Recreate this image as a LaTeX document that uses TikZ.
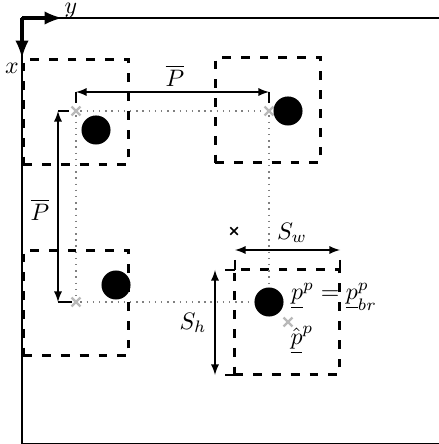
\documentclass[tikz,border=0pt]{standalone}
\usepackage{amsmath,amssymb}
\usetikzlibrary{arrows,shapes.misc}

\begin{document}
\begin{tikzpicture}[x=0.42pt,y=-0.42pt,
  win/.style={draw,line width=1.3pt,dash pattern=on 3.7pt off 4.2pt,minimum size=44.3pt,inner sep=0pt},
  robot/.style={circle,fill=black,inner sep=0pt,minimum size=12.2pt},
  cell/.style={cross out,draw=gray!55,line width=0.95pt,inner sep=0pt,minimum size=2.8pt},
  bmark/.style={cross out,draw,line width=0.65pt,inner sep=0pt,minimum size=2.5pt},
  gridline/.style={gray,dotted,line width=0.6pt},
  dim/.style={latex-latex,line width=0.55pt}]
\useasboundingbox (0,0) rectangle (438,444);

\draw[line width=0.65pt] (470,18) -- (22,18) -- (22,443.5) -- (470,443.5);
\coordinate (o) at (22,18);
\draw[-latex,line width=1.5pt] (o) -- (62,18);
\draw[-latex,line width=1.5pt] (o) -- (22,58);
\node[inner sep=0pt] (ly) at (71,11) {$y$};
\node (lx) at (12,68) {$x$};

\node[cell] (c11) at (76,111) {};
\node[cell] (c12) at (269,111) {};
\node[cell] (c21) at (76,302) {};
\node[cell] (c22) at (288,322) {};

\node[win] (w11) at (76,112) {};
\node[win] (w12) at (268,110) {};
\node[win] (w21) at (76,303) {};
\node[win] (w22) at (287,322) {};

\node[robot] (r11) at (96,130) {};
\node[robot] (r12) at (288,111) {};
\node[robot] (r21) at (116,285) {};
\node[robot] (r22) at (269,302) {};

\draw[gridline] (c11) -- (c12);
\draw[gridline] (c11) -- (c21);
\draw[gridline] (c12) -- (r22);
\draw[gridline] (c21) -- (r22);

\coordinate (ph1) at (76,92);
\coordinate (ph2) at (269,92);
\draw[dim] (ph1) -- (ph2);
\draw[line width=0.55pt] (ph1) -- (76,103);
\draw[line width=0.55pt] (ph2) -- (269,103);
\node (lp) at (175,76) {$\overline{P}$};

\coordinate (pv1) at (58,111);
\coordinate (pv2) at (58,302);
\draw[dim] (pv1) -- (pv2);
\draw[line width=0.55pt] (pv1) -- (69,111);
\draw[line width=0.55pt] (pv2) -- (72,302);
\node (lpv) at (40,210) {$\overline{P}$};

\coordinate (sw1) at (235,250);
\coordinate (sw2) at (340,250);
\draw[dim] (sw1) -- (sw2);
\draw[line width=0.55pt] (235,260) -- (235,270);
\draw[line width=0.55pt] (340,260) -- (340,270);
\node (lsw) at (292,233) {$S_w$};

\coordinate (sh1) at (215,270);
\coordinate (sh2) at (215,375);
\draw[dim] (sh1) -- (sh2);
\draw[line width=0.55pt] (225,270) -- (235,270);
\draw[line width=0.55pt] (225,375) -- (235,375);
\node (lsh) at (193,323) {$S_h$};

\node[bmark] (m0) at (234,231) {};
\node (lpp) at (334,297) {$\underline{p}^p = \underline{p}^p_{br}$};
\node (lph) at (302,340) {$\hat{\underline{p}}^p$};
\end{tikzpicture}
\end{document}
